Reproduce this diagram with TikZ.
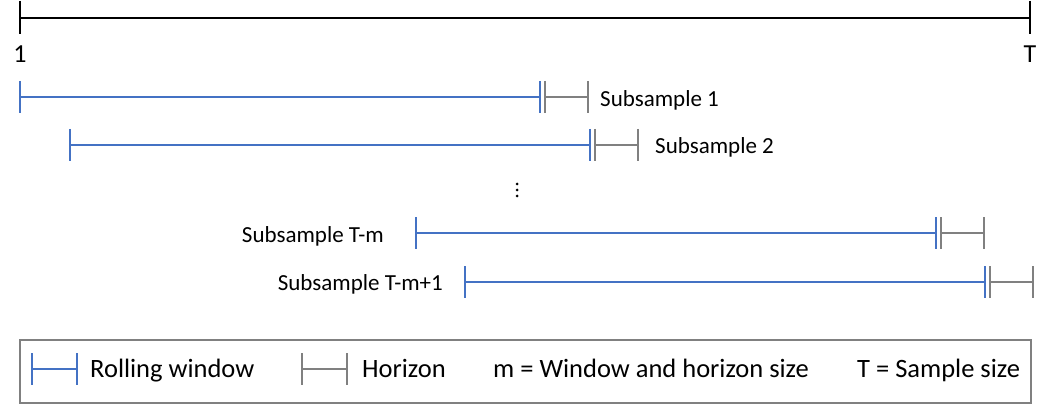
\documentclass[tikz,border=0pt]{standalone}
\usepackage{fontspec}
\setmainfont{Carlito}
\definecolor{winblue}{HTML}{4472C4}
\definecolor{hzgray}{HTML}{808080}
\begin{document}
\begin{tikzpicture}[x=1pt,y=-1pt,
  axis/.style={black,line width=2pt},
  win/.style={winblue,line width=1.8pt},
  hz/.style={hzgray,line width=1.8pt},
  tickw/.style={line width=2.4pt},
  lab/.style={font=\fontsize{23}{27}\selectfont,inner sep=0pt},
  leg/.style={font=\fontsize{26.5}{30}\selectfont,inner sep=0pt,anchor=base west},
  endlab/.style={font=\fontsize{26}{30}\selectfont,inner sep=0pt,anchor=base}]
\useasboundingbox (0,0) rectangle (1057,406);
% axis
\coordinate (a1) at (20,18);
\coordinate (aT) at (1030,18);
\draw[axis] (a1) -- (aT);
\draw[axis] (20,1) -- (20,34);
\draw[axis] (1030,1) -- (1030,34);
\node[endlab] (one) at (20,63) {1};
\node[endlab] (tee) at (1030,63) {T};
% subsamples
\foreach \y/\x [count=\i] in {97/20, 145/70, 233/416, 282/465}{
  \pgfmathsetmacro{\xb}{\x+520}
  \pgfmathsetmacro{\xg}{\x+525}
  \pgfmathsetmacro{\xe}{\x+568}
  \coordinate (w\i s) at (\x,\y);
  \coordinate (w\i e) at (\xb,\y);
  \coordinate (h\i s) at (\xg,\y);
  \coordinate (h\i e) at (\xe,\y);
  \draw[win] (w\i s) -- (w\i e);
  \draw[win,tickw] (\x,\y-16) -- (\x,\y+16);
  \draw[win,tickw] (\xb,\y-16) -- (\xb,\y+16);
  \draw[hz] (h\i s) -- (h\i e);
  \draw[hz,tickw] (\xg,\y-16) -- (\xg,\y+16);
  \draw[hz,tickw] (\xe,\y-16) -- (\xe,\y+16);
}
\node[lab,anchor=base west] (s1) at (600,107) {Subsample 1};
\node[lab,anchor=base west] (s2) at (655,154) {Subsample 2};
\node[lab,anchor=base east] (s3) at (384,242) {Subsample T-m};
\node[lab,anchor=base east] (s4) at (443,290) {Subsample T-m+1};
\fill (517,184) circle (1.5);
\fill (517,190) circle (1.5);
\fill (517,196) circle (1.5);
% legend
\draw[hzgray,line width=1.6pt] (20,340) rectangle (1031,403);
\draw[win] (32,369) -- (77,369);
\draw[win,tickw] (32,353) -- (32,385);
\draw[win,tickw] (77,353) -- (77,385);
\node[leg] (l1) at (90,377) {Rolling window};
\draw[hz] (302,369) -- (347,369);
\draw[hz,tickw] (302,353) -- (302,385);
\draw[hz,tickw] (347,353) -- (347,385);
\node[leg] (l2) at (362,377) {Horizon};
\node[leg] (l3) at (493,377) {m = Window and horizon size};
\node[leg] (l4) at (857,377) {T = Sample size};
\end{tikzpicture}
\end{document}
